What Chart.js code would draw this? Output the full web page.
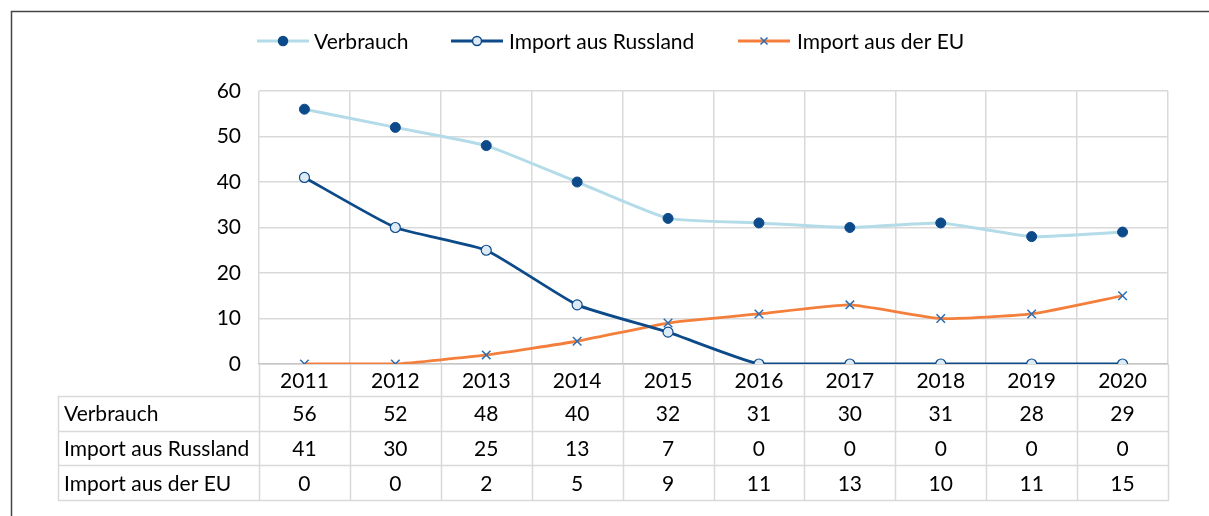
<!DOCTYPE html>
<html>
<head>
<meta charset="utf-8">
<script src="https://cdn.jsdelivr.net/npm/chart.js@4"></script>
<style>
  body { margin: 0; background: #fff; }
  #wrap { width: 1209px; height: 516px; position: relative; }
</style>
</head>
<body>
<div id="wrap"><canvas id="gasChart"></canvas></div>
<script>
const years = ['2011', '2012', '2013', '2014', '2015', '2016', '2017', '2018', '2019', '2020'];
const verbrauch = [56, 52, 48, 40, 32, 31, 30, 31, 28, 29];
const importRussland = [41, 30, 25, 13, 7, 0, 0, 0, 0, 0];
const importEU = [0, 0, 2, 5, 9, 11, 13, 10, 11, 15];
const seriesNames = ['Verbrauch', 'Import aus Russland', 'Import aus der EU'];
const yTicks = [0, 10, 20, 30, 40, 50, 60];

const FONT = 'Lato, "Noto Sans", sans-serif';
const lightBlue = '#b3dbe8';
const darkBlue = '#0d4a8a';
const orange = '#f47f3c';
const crossBlue = '#2d6db3';
const gridGray = '#d9d9d9';

// draws the data table under the axis, the legend and the frame
const tablePlugin = {
    id: 'tablePlugin',
    afterDraw(chart) {
        const ctx = chart.ctx;
        const x = chart.scales.x;
        const area = chart.chartArea;
        const step = x.getPixelForValue(1) - x.getPixelForValue(0);
        const rows = [verbrauch, importRussland, importEU];
        const rowTop = 396, rowH = 34.7;
        const tableLeft = 58;
        const tableBottom = rowTop + rowH * rows.length;

        ctx.save();
        ctx.strokeStyle = gridGray;
        ctx.lineWidth = 1.5;
        // vertical lines through the year row and table
        for (let i = 0; i <= years.length; i++) {
            const px = Math.round(x.getPixelForValue(0) - step / 2 + i * step) + 0.5;
            ctx.beginPath();
            ctx.moveTo(px, area.bottom);
            ctx.lineTo(px, tableBottom);
            ctx.stroke();
        }
        ctx.beginPath();
        ctx.moveTo(tableLeft + 0.5, rowTop);
        ctx.lineTo(tableLeft + 0.5, tableBottom);
        ctx.stroke();
        for (let r = 0; r <= rows.length; r++) {
            const py = Math.round(rowTop + r * rowH) + 0.5;
            ctx.beginPath();
            ctx.moveTo(tableLeft, py);
            ctx.lineTo(area.right + 1, py);
            ctx.stroke();
        }

        ctx.fillStyle = '#000';
        ctx.font = '21px ' + FONT;
        ctx.textBaseline = 'middle';
        rows.forEach((vals, r) => {
            const cy = rowTop + r * rowH + rowH / 2 + 1;
            ctx.textAlign = 'left';
            ctx.fillText(seriesNames[r], tableLeft + 6, cy);
            ctx.textAlign = 'center';
            vals.forEach((v, i) => ctx.fillText(String(v), x.getPixelForValue(i), cy));
        });

        // legend
        const ds = chart.data.datasets;
        const legendItems = [
            { lineStart: 257, text: 314 },
            { lineStart: 451, text: 509 },
            { lineStart: 738, text: 797 }
        ];
        const ly = 41;
        legendItems.forEach((it, k) => {
            const d = ds[k];
            ctx.strokeStyle = d.borderColor;
            ctx.lineWidth = 3;
            ctx.beginPath();
            ctx.moveTo(it.lineStart, ly);
            ctx.lineTo(it.lineStart + 52, ly);
            ctx.stroke();
            const mx = it.lineStart + 26;
            ctx.strokeStyle = d.pointBorderColor;
            ctx.fillStyle = d.pointBackgroundColor;
            ctx.lineWidth = 1.5;
            if (d.pointStyle === 'cross') {
                ctx.beginPath();
                ctx.moveTo(mx - 3.5, ly - 3.5); ctx.lineTo(mx + 3.5, ly + 3.5);
                ctx.moveTo(mx + 3.5, ly - 3.5); ctx.lineTo(mx - 3.5, ly + 3.5);
                ctx.stroke();
            } else {
                ctx.beginPath();
                ctx.arc(mx, ly, 4.5, 0, Math.PI * 2);
                ctx.fill();
                ctx.stroke();
            }
            ctx.fillStyle = '#000';
            ctx.textAlign = 'left';
            ctx.font = '21px ' + FONT;
            ctx.fillText(seriesNames[k], it.text, ly + 1);
        });

        // outer frame
        ctx.strokeStyle = '#444';
        ctx.lineWidth = 1.5;
        ctx.beginPath();
        ctx.moveTo(11.5, 516);
        ctx.lineTo(11.5, 11.5);
        ctx.lineTo(1209, 11.5);
        ctx.stroke();
        ctx.restore();
    }
};

const ctx = document.getElementById('gasChart').getContext('2d');
new Chart(ctx, {
    type: 'line',
    data: {
        labels: years,
        datasets: [
            {
                label: seriesNames[0],
                data: verbrauch,
                borderColor: lightBlue,
                borderWidth: 3,
                pointStyle: 'circle',
                pointRadius: 5,
                pointBackgroundColor: darkBlue,
                pointBorderColor: darkBlue,
                pointBorderWidth: 1,
                tension: 0.15
            },
            {
                label: seriesNames[1],
                data: importRussland,
                borderColor: darkBlue,
                borderWidth: 2.8,
                pointStyle: 'circle',
                pointRadius: 5,
                pointBackgroundColor: '#dcebf6',
                pointBorderColor: darkBlue,
                pointBorderWidth: 1.2,
                tension: 0.15
            },
            {
                label: seriesNames[2],
                data: importEU,
                borderColor: orange,
                borderWidth: 2.8,
                pointStyle: 'cross',
                rotation: 45,
                pointRadius: 6,
                pointBackgroundColor: crossBlue,
                pointBorderColor: crossBlue,
                pointBorderWidth: 1.5,
                tension: 0.15
            }
        ]
    },
    options: {
        responsive: true,
        maintainAspectRatio: false,
        animation: false,
        layout: { padding: { left: 0, right: 41, top: 91, bottom: 0 } },
        plugins: {
            legend: { display: false },
            tooltip: { enabled: false }
        },
        scales: {
            x: {
                offset: true,
                grid: { offset: true, color: gridGray, lineWidth: 1.5, drawTicks: false },
                border: { color: '#c6c6c6', width: 1.5 },
                ticks: { color: '#000', font: { family: FONT, size: 21 }, padding: 5 },
                afterFit: s => { s.height = 152; }
            },
            y: {
                min: 0,
                max: 60,
                afterBuildTicks: s => { s.ticks = yTicks.map(v => ({ value: v })); },
                grid: { color: gridGray, lineWidth: 1.5, drawTicks: false },
                border: { display: false },
                ticks: { color: '#000', font: { family: FONT, size: 21 }, padding: 18 },
                afterFit: s => { s.width = 259; }
            }
        }
    },
    plugins: [tablePlugin]
});
</script>
</body>
</html>
